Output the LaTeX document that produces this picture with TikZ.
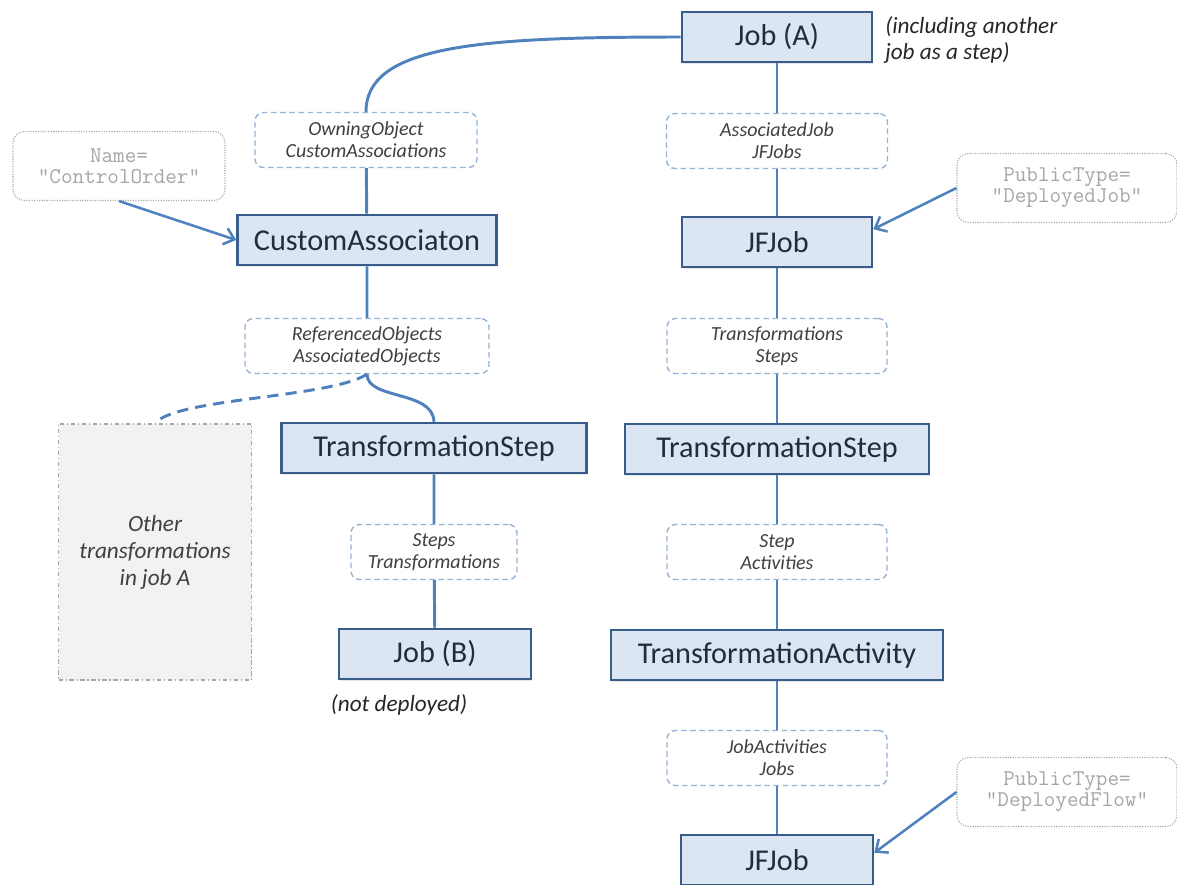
\documentclass[tikz,border=0pt]{standalone}
\usepackage{fontspec}
\setmainfont{Carlito}
\usetikzlibrary{arrows.meta,shadows}

\definecolor{boxfill}{HTML}{DCE6F2}
\definecolor{boxline}{HTML}{385D8A}
\definecolor{linkblue}{HTML}{4F81BD}
\definecolor{roleline}{HTML}{95B3D7}
\definecolor{remarkgray}{HTML}{A6A6A6}
\definecolor{textdark}{HTML}{1F2D3D}
\definecolor{textgray}{HTML}{404040}

\tikzset{
  entity/.style={
    shape=rectangle,
    draw=boxline,
    line width=1.8pt,
    fill=boxfill,
    text=textdark,
    font=\fontsize{21.5}{25}\selectfont,
    minimum width=#1*0.025cm,
    minimum height=50*0.025cm,
    inner sep=0pt,
    drop shadow={opacity=0.2,shadow xshift=0.6pt,shadow yshift=-1.4pt}
  },
  entity/.default=190,
  role/.style={
    shape=rectangle,
    rounded corners=6pt,
    draw=roleline,
    line width=1pt,
    dash pattern=on 4pt off 2.5pt,
    fill=white,
    text=textgray,
    font=\itshape\fontsize{14.2}{15.6}\selectfont,
    align=center,
    minimum width=#1*0.025cm,
    minimum height=55*0.025cm,
    inner sep=0pt
  },
  role/.default=220,
  remark/.style={
    shape=rectangle,
    rounded corners=8pt,
    draw=remarkgray,
    line width=0.8pt,
    densely dotted,
    fill=white,
    text=remarkgray,
    font=\ttfamily\fontsize{16}{15}\selectfont,
    align=center,
    minimum width=#1*0.025cm,
    minimum height=69*0.025cm,
    inner sep=0pt
  },
  remark/.default=220,
  aside/.style={
    shape=rectangle,
    draw=gray!70,
    line width=0.8pt,
    dash dot,
    fill=gray!10,
    text=textgray,
    font=\itshape\fontsize{16.5}{19.2}\selectfont,
    align=center,
    minimum width=193*0.025cm,
    minimum height=256*0.025cm,
    inner sep=0pt
  },
  comment/.style={
    text=black!85,
    font=\itshape\fontsize{16.5}{18.5}\selectfont,
    inner sep=0pt
  },
  link/.style={
    draw=linkblue,
    line width=2.1pt
  },
  pointer/.style={
    link,
    line width=1.8pt,
    -{Straight Barb[length=7pt,width=12pt]}
  }
}

\begin{document}
\begin{tikzpicture}[x=0.025cm,y=-0.025cm]
  \useasboundingbox (0,0) rectangle (1177,884);

  % right column
  \node [entity] (jobA) at (777,37) {Job (A)};
  \node [comment, anchor=west, align=left] (jobAnote) at (885,40)
    {(including another\\job as a step)};
  \node [role=221] (assocjob) at (777,141) {AssociatedJob\\JFJobs};
  \node [entity] (jfjobA) at (777,242) {JFJob};
  \node [remark] (deployjob) at (1067,188) {PublicType=\\“DeployedJob”};
  \node [role] (trsteps) at (777,346) {Transformations\\Steps};
  \node [entity=304] (tstepR) at (777,449) {TransformationStep};
  \node [role] (stepact) at (777,552) {Step\\Activities};
  \node [entity=332] (tact) at (777,655) {TransformationActivity};
  \node [role] (jobacts) at (777,758) {JobActivities\\Jobs};
  \node [entity=192] (jfjobB) at (777,860) {JFJob};
  \node [remark] (deployflow) at (1067,792) {PublicType=\\“DeployedFlow”};

  % left column
  \node [remark=212] (ctrlorder) at (119,166) {Name=\\“ControlOrder”};
  \node [role=222] (owning) at (366,140) {OwningObject\\CustomAssociations};
  \node [entity=259] (custassoc) at (367,240) {CustomAssociaton};
  \node [role=244] (refobj) at (367,346) {ReferencedObjects\\AssociatedObjects};
  \node [aside] (others) at (155,552) {Other\\transformations\\in job A};
  \node [entity=305] (tstepL) at (434,448) {TransformationStep};
  \node [role=166] (stepstr) at (434,552) {Steps\\Transformations};
  \node [entity=192] (jobB) at (435,654) {Job (B)};
  \node [comment] (jobBnote) at (399,705) {(not deployed)};

  % associations
  \draw [link] (jobA) -- (assocjob) (assocjob) -- (jfjobA)
    (jfjobA) -- (trsteps) (trsteps) -- (tstepR)
    (tstepR) -- (stepact) (stepact) -- (tact)
    (tact) -- (jobacts) (jobacts) -- (jfjobB);
  \draw [link] (jobA.west) .. controls (480,37) and (366,45) .. (owning.north);
  \draw [link] (owning) -- (custassoc) (custassoc) -- (refobj)
    (tstepL) -- (stepstr) (stepstr) -- (jobB);
  \draw [link] (refobj.south) .. controls (367,400) and (433,390) .. (tstepL.north);
  \draw [link, dash pattern=on 8pt off 5pt]
    (refobj.south) .. controls (330,398) and (175,398) .. (others.north);

  % property values
  \draw [pointer] (ctrlorder.south) -- (custassoc.west);
  \draw [pointer] (deployjob.west) -- ([yshift=0.32cm]jfjobA.east);
  \draw [pointer] (deployflow.west) -- ([yshift=0.18cm]jfjobB.east);
\end{tikzpicture}
\end{document}
